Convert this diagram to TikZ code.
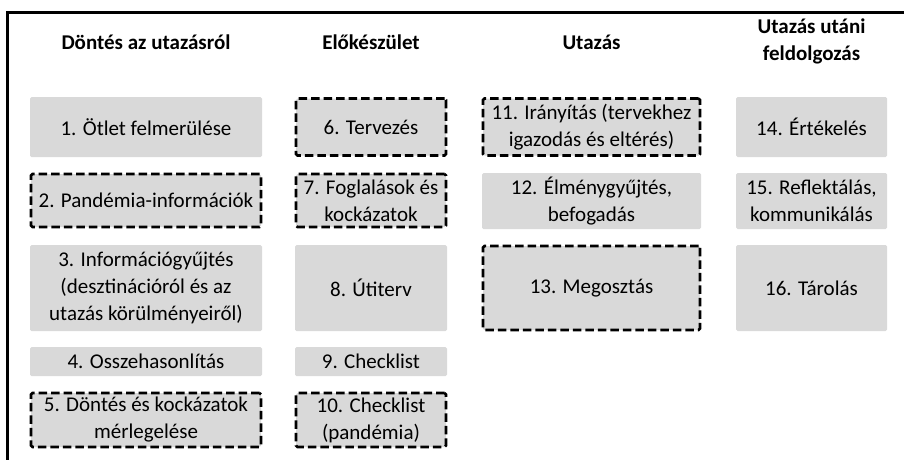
\documentclass[tikz,border=0pt]{standalone}
\usepackage{fontspec}
\setmainfont{Carlito}
\definecolor{boxgray}{HTML}{D9D9D9}
\begin{document}
\begin{tikzpicture}[x=1pt,y=-1pt,
  box/.style={fill=boxgray, inner sep=0pt, align=center, rounded corners=1.5pt,
    font=\fontsize{21}{27}\selectfont},
  dbox/.style={box, draw=black, line width=2.6pt, dash pattern=on 8.5pt off 4pt},
  hdr/.style={font=\fontsize{21}{27}\selectfont\bfseries, align=center},
  frame/.style={line width=3pt}]
\useasboundingbox (0,0) rectangle (904,459);
% frame
\coordinate (fbl) at (7.5,460);
\coordinate (ftl) at (7.5,12.5);
\coordinate (ftr) at (905,12.5);
\draw[frame] (fbl) -- (ftl) -- (ftr);
% headers
\node[hdr] (h1) at (146,42) {Döntés az utazásról};
\node[hdr] (h2) at (371,42) {Előkészület};
\node[hdr] (h3) at (591.5,42) {Utazás};
\node[hdr] (h4) at (811.5,41.5) {Utazás utáni\\feldolgozás};
% column 1
\node[box, minimum width=232pt, minimum height=60pt] (b1) at (146,127) {1. Ötlet felmerülése};
\node[dbox, minimum width=230pt, minimum height=53pt] (b2) at (146,200.5) {2. Pandémia-információk};
\node[box, minimum width=232pt, minimum height=86pt] (b3) at (146,288) {3. Információgyűjtés\\(desztinációról és az\\utazás körülményeiről)};
\node[box, minimum width=232pt, minimum height=29pt] (b4) at (146,361.5) {4. Osszehasonlítás};
\node[dbox, minimum width=230pt, minimum height=54pt] (b5) at (146,420) {5. Döntés és kockázatok\\mérlegelése};
% column 2
\node[dbox, minimum width=150pt, minimum height=57pt] (b6) at (371,127) {6. Tervezés};
\node[dbox, minimum width=150pt, minimum height=53pt] (b7) at (371,200.5) {7. Foglalások és\\kockázatok};
\node[box, minimum width=152pt, minimum height=86pt] (b8) at (371,288) {8. Útiterv};
\node[box, minimum width=152pt, minimum height=29pt] (b9) at (371,361.5) {9. Checklist};
\node[dbox, minimum width=150pt, minimum height=54pt] (b10) at (371,420) {10. Checklist\\(pandémia)};
% column 3
\node[dbox, minimum width=217pt, minimum height=57pt] (b11) at (591.5,127) {11. Irányítás (tervekhez\\igazodás és eltérés)};
\node[box, minimum width=219pt, minimum height=56pt] (b12) at (591.5,201) {12. Élménygyűjtés,\\befogadás};
\node[dbox, minimum width=217pt, minimum height=84pt] (b13) at (591.5,288) {13. Megosztás};
% column 4
\node[box, minimum width=151pt, minimum height=60pt] (b14) at (811.5,127) {14. Értékelés};
\node[box, minimum width=151pt, minimum height=56pt] (b15) at (811.5,201) {15. Reflektálás,\\kommunikálás};
\node[box, minimum width=151pt, minimum height=86pt] (b16) at (811.5,288) {16. Tárolás};
\end{tikzpicture}
\end{document}
